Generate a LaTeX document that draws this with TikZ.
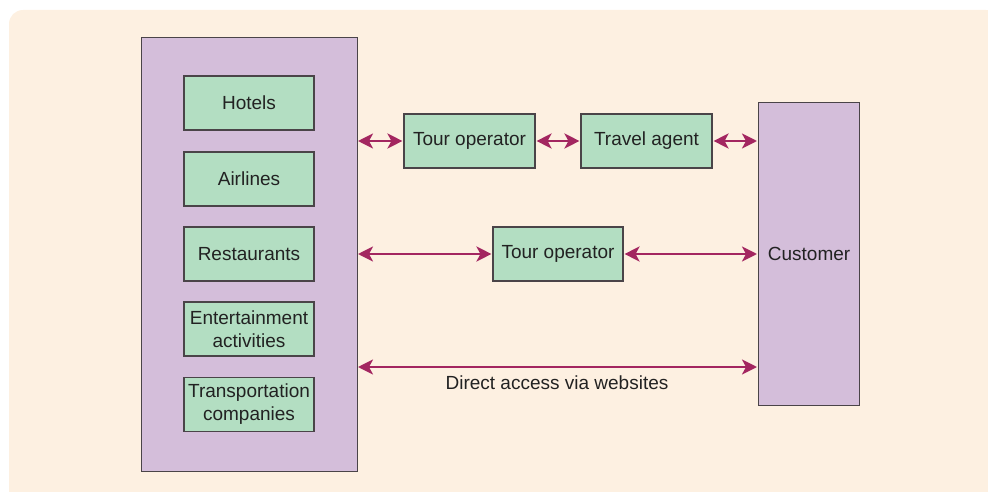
\documentclass[tikz,border=0pt]{standalone}
\usepackage{fontspec}
\setmainfont{Liberation Sans}
\usetikzlibrary{arrows.meta}
\definecolor{bgc}{HTML}{FDF0E1}
\definecolor{purp}{HTML}{D4BEDA}
\definecolor{grn}{HTML}{B3DEC2}
\definecolor{arr}{HTML}{A32660}
\definecolor{edge}{HTML}{4A4448}
\definecolor{txt}{HTML}{222222}
\tikzset{
  pbox/.style={draw=edge, line width=1.2pt, fill=purp},
  gbox/.style={draw=edge, line width=1.1pt, fill=grn, minimum width=130pt, minimum height=54pt, inner sep=0pt, align=center, text=txt, font=\fontsize{19}{23}\selectfont},
  link/.style={draw=arr, line width=2.6pt, {Stealth[length=15pt,width=15pt,inset=4pt]}-{Stealth[length=15pt,width=15pt,inset=4pt]}, shorten <=1pt, shorten >=1pt},
  lbl/.style={text=txt, font=\fontsize{19}{23}\selectfont}
}
\begin{document}
\begin{tikzpicture}[x=1pt,y=-1pt]
\useasboundingbox (0,0) rectangle (988,492);
\begin{scope}
\clip (0,0) rectangle (988,492);
\fill[bgc, rounded corners=14pt] (9,10) rectangle (1000,505);
\end{scope}
% left big box
\node[pbox, minimum width=216pt, minimum height=434pt, inner sep=0pt, anchor=north west] (prov) at (141,37) {};
\node[gbox] (hotels) at (249,103) {Hotels};
\node[gbox] (air) at (249,179) {Airlines};
\node[gbox] (rest) at (249,254) {Restaurants};
\node[gbox] (ent) at (249,329) {Entertainment\\activities};
\node[gbox] (trans) at (249,404.5) {Transportation\\companies};
% customer
\node[pbox, minimum width=101pt, minimum height=303pt, inner sep=0pt, anchor=north west, text=txt, font=\fontsize{19}{23}\selectfont] (cust) at (758,102) {Customer};
% middle boxes
\node[gbox, minimum width=131pt] (to1) at (469.5,141) {Tour operator};
\node[gbox, minimum width=131pt] (ta) at (646.5,141) {Travel agent};
\node[gbox, minimum width=130pt] (to2) at (558,254) {Tour operator};
% arrows
\coordinate (l1) at (357,141);
\coordinate (r1) at (758,141);
\coordinate (l2) at (357,254);
\coordinate (r2) at (758,254);
\coordinate (l3) at (357,367);
\coordinate (r3) at (758,367);
\draw[link] (l1) -- (to1.west);
\draw[link] (to1.east) -- (ta.west);
\draw[link] (ta.east) -- (r1);
\draw[link] (l2) -- (to2.west);
\draw[link] (to2.east) -- (r2);
\draw[link] (l3) -- (r3);
\node[lbl] (web) at (557,383) {Direct access via websites};
\end{tikzpicture}
\end{document}
